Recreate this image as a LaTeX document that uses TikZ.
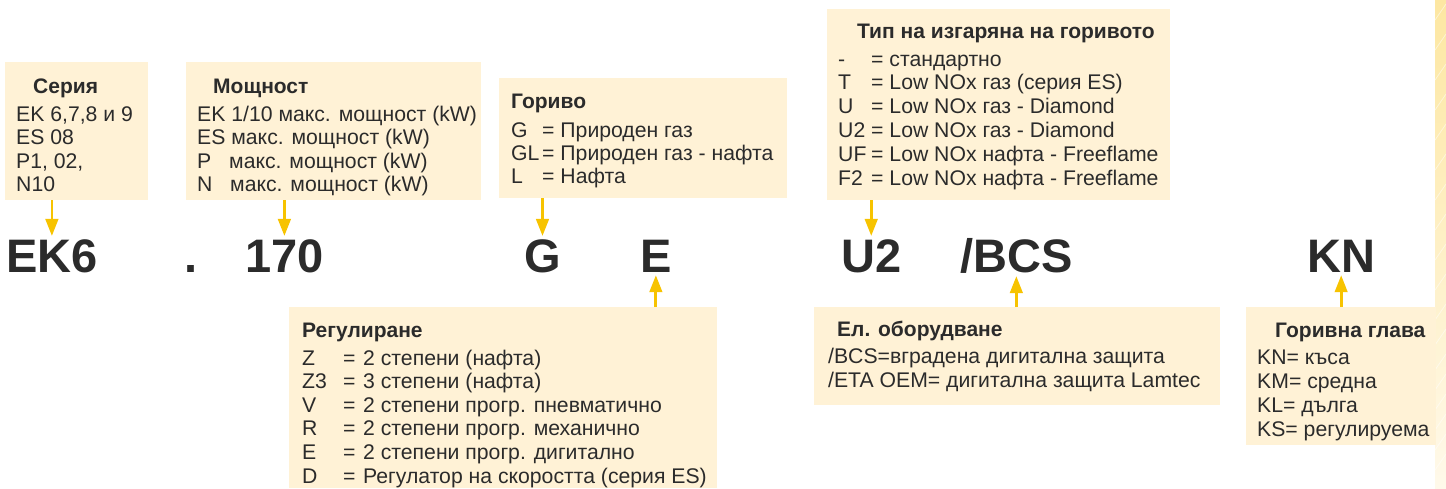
\documentclass[tikz,border=0pt]{standalone}
\usepackage{fontspec}
\setmainfont{Liberation Sans}
\usetikzlibrary{arrows.meta}
\definecolor{boxfill}{HTML}{FFF2D6}
\definecolor{txt}{HTML}{2B2B2B}
\definecolor{arrcol}{HTML}{F7C300}
\definecolor{stripA}{HTML}{FDE7A2}
\definecolor{stripB}{HTML}{FFF9EA}
\tikzset{
  infobox/.style={fill=boxfill, draw=none, inner sep=0pt, anchor=north west},
  body/.style={anchor=base west, inner sep=0pt, text=txt, font=\fontsize{21.2}{23.6}\selectfont},
  ttl/.style={anchor=base west, inner sep=0pt, text=txt, font=\fontsize{21}{23.6}\selectfont\bfseries},
  big/.style={anchor=base west, inner xsep=0pt, inner ysep=3pt, text=txt, font=\fontsize{47}{50}\selectfont\bfseries},
  arr/.style={draw=arrcol, line width=2.8pt, -{Triangle[width=12.5pt,length=17pt]}},
}
\begin{document}
\begin{tikzpicture}[x=1pt,y=-1pt]
\useasboundingbox (0,0) rectangle (1446,488);
% right decorative strip
\shade[top color=stripA, bottom color=stripB] (1435,0) rectangle (1446,488);
\begin{scope}
\clip (1435,0) rectangle (1446,488);
\foreach \yy in {20,50,80,110,140,170,200,230,260,290,320,345,370,390,410,430,450,470}
  \draw[white, opacity=0.55, line width=0.7pt] (1435,\yy) -- (1446,\yy-16);
\end{scope}

% boxes
\node[infobox, minimum width=143pt, minimum height=138pt] (serbox) at (5,62) {};
\node[infobox, minimum width=295pt, minimum height=138pt] (mosbox) at (186,62) {};
\node[infobox, minimum width=288pt, minimum height=120pt] (gorbox) at (499,78) {};
\node[infobox, minimum width=343pt, minimum height=191pt] (tipbox) at (827,9) {};
\node[infobox, minimum width=428pt, minimum height=181pt] (regbox) at (289,307) {};
\node[infobox, minimum width=406pt, minimum height=98pt] (elbox) at (814,307) {};
\node[infobox, minimum width=190pt, minimum height=138pt] (glbox) at (1246,307) {};

% Серия
\node[ttl] (sert) at (33,93) {Серия};
\foreach \t [count=\i] in {{EK 6,7,8 и 9},{ES 08},{P1, 02,},{N10}}
  \node[body] (serb\i) at (16,{121+23.5*(\i-1)}) {\t};

% Мощност
\node[ttl] (most) at (213,93) {Мощност};
\foreach \t [count=\i] in {{EK 1/10 макс. мощност (kW)},{ES макс. мощност (kW)},{\makebox[32pt][l]{P}макс. мощност (kW)},{\makebox[33pt][l]{N}макс. мощност (kW)}}
  \node[body] (mosb\i) at (197,{121+23.5*(\i-1)}) {\t};

% Гориво
\node[ttl] (gort) at (511,108) {Гориво};
\foreach \c/\t [count=\i] in {G/Природен газ,GL/Природен газ - нафта,L/Нафта}
  \node[body] (gorb\i) at (511,{137+23*(\i-1)}) {\makebox[31pt][l]{\c}= \t};

% Тип на изгаряна на горивото
\node[ttl] (tipt) at (857,38) {Тип на изгаряна на горивото};
\foreach \c/\t [count=\i] in {-/стандартно,T/Low NOx газ (серия ES),U/Low NOx газ - Diamond,U2/Low NOx газ - Diamond,UF/Low NOx нафта - Freeflame,F2/Low NOx нафта - Freeflame}
  \node[body] (tipb\i) at (838,{66+23.8*(\i-1)}) {\makebox[33pt][l]{\c}= \t};

% Регулиране
\node[ttl] (regt) at (302,337) {Регулиране};
\foreach \c/\t [count=\i] in {Z/2 степени (нафта),Z3/3 степени (нафта),V/2 степени прогр. пневматично,R/2 степени прогр. механично,E/2 степени прогр. дигитално,D/Регулатор на скоростта (серия ES)}
  \node[body] (regb\i) at (302,{365+23.6*(\i-1)}) {\makebox[41pt][l]{\c}\makebox[20pt][l]{=}\t};

% Ел. оборудване
\node[ttl] (elt) at (837,336) {Ел. оборудване};
\node[body] (elb1) at (828,363) {/BCS=вградена дигитална защита};
\node[body] (elb2) at (828,387) {/ETA OEM= дигитална защита Lamtec};

% Горивна глава
\node[ttl] (glt) at (1275,337) {Горивна глава};
\foreach \t [count=\i] in {KN= къса,KM= средна,KL= дълга,KS= регулируема}
  \node[body] (glb\i) at (1257,{364+24*(\i-1)}) {\t};

% big code letters
\node[big] (ek6) at (6,272) {EK6};
\node[big] (dot) at (184,272) {.};
\node[big] (n170) at (245,272) {170};
\node[big] (g) at (524,272) {G};
\node[big] (e) at (640,272) {E};
\node[big] (u2) at (841,272) {U2};
\node[big] (bcs) at (960,272) {/BCS};
\node[big] (kn) at (1307,272) {KN};

% arrows
\draw[arr] (serbox.south -| ek6.center) -- (ek6.north);
\draw[arr] (mosbox.south -| n170.center) -- (n170.north);
\draw[arr] (gorbox.south -| g.center) -- (g.north);
\draw[arr] (tipbox.south -| u2.center) -- (u2.north);
\draw[arr] (regbox.north -| e.center) -- (e.south);
\draw[arr] (elbox.north -| bcs.center) -- (bcs.south);
\draw[arr] (glbox.north -| kn.center) -- (kn.south);
\end{tikzpicture}
\end{document}
